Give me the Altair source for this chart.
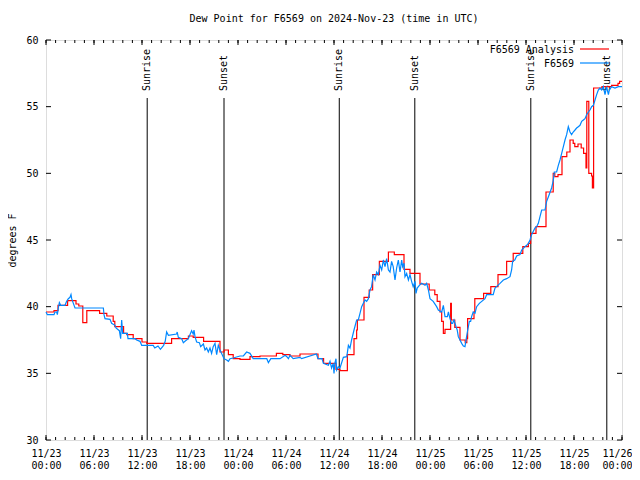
import altair as alt
import pandas as pd

# ---------------- data (hours after 2024-11-23 00:00 UTC) ----------------
red_hours = [0.0, 1.0, 1.5, 2.7, 3.75, 4.1, 4.6, 5.1, 6.7, 7.6, 8.4, 8.6, 9.7, 10.1, 10.9,
             12.0, 12.6, 15.7, 17.8, 18.4, 19.7, 21.75, 22.25, 22.8, 23.4, 24.25, 25.5,
             26.75, 28.8, 29.6, 30.5, 31.75, 34.0, 34.7, 36.25, 36.75, 37.67, 38.5, 38.83,
             38.92, 39.75, 40.4, 40.83, 41.67, 42.8, 43.54, 44.75, 45.5, 46.75, 47.9, 48.6,
             48.9, 49.25, 49.46, 49.67, 49.875, 50.58, 50.67, 51.1, 51.75, 52.4, 52.6, 52.7,
             53.5, 53.6, 54.7, 55.6, 56.5, 57.58, 58.4, 59.6, 60.3, 60.58, 61.25, 62.5, 63.4,
             63.6, 64.0, 64.5, 65.1, 65.5, 65.9, 66.1, 66.5, 66.9, 67.2, 67.5, 67.6, 67.85,
             68.2, 68.3, 68.45, 69.5, 70.7, 71.5, 71.7, 72.0]
red_vals = [39.6, 39.7, 40.1, 40.45, 40.2, 40.05, 38.8, 39.7, 39.5, 39.3, 38.9, 38.5, 38.0, 37.9, 37.6,
            37.35, 37.25, 37.6, 37.8, 37.7, 37.4, 36.6, 36.75, 36.4, 36.1, 36.05, 36.25,
            36.3, 36.5, 36.4, 36.3, 36.45, 36.1, 35.75, 35.3, 35.2, 36.4, 37.6, 38.25,
            39.0, 40.7, 41.25, 42.4, 43.4, 44.1, 43.9, 42.8, 42.5, 41.7, 41.25, 40.9,
            40.4, 39.6, 38.9, 38.0, 38.3, 40.25, 39.0, 38.45, 37.5, 37.3, 37.6, 39.1,
            39.6, 40.6, 41.0, 41.5, 42.4, 43.4, 44.0, 44.5, 44.75, 45.5, 46.0, 48.6, 50.0,
            49.75, 49.9, 51.25, 51.6, 52.5, 52.25, 52.0, 52.2, 51.9, 51.5, 50.4, 55.4, 50.0,
            49.8, 48.9, 56.4, 56.5, 56.6, 56.75, 56.9, 56.9]

blue_hours = [0.0, 0.17, 1.0, 1.125, 1.33, 1.42, 1.54, 1.67, 1.83, 2.375, 2.58, 2.79, 3.0, 3.125,
              3.21, 3.42, 3.625, 7.17, 7.25, 7.375, 8.0, 8.2, 8.625, 8.75, 9.17, 9.33, 9.46,
              9.58, 10.17, 10.25, 11.125, 11.33, 11.75, 11.96, 13.4, 13.6, 14.0, 14.3, 14.7,
              14.9, 15.08, 15.3, 16.33, 16.4, 16.54, 16.96, 17.17, 17.375, 17.79, 18.2, 18.4,
              18.5, 18.625, 18.83, 19.17, 19.33, 19.67, 19.875, 20.08, 20.29, 20.5, 20.7, 20.9,
              21.125, 21.33, 21.54, 21.75, 22.25, 22.58, 22.8, 23.0, 23.4, 24.25, 24.67, 25.08,
              25.5, 25.9, 27.6, 27.8, 28.1, 29.25, 29.9, 30.1, 30.3, 30.5, 30.9, 31.75, 31.96,
              33.8, 34.0, 34.5, 34.67, 35.3, 35.5, 35.7, 35.9, 36.0, 36.1, 36.25, 36.33, 36.54,
              36.75, 37.17, 37.6, 37.8, 38.0, 38.2, 38.5, 38.83, 39.04, 39.25, 39.46, 39.67,
              39.875, 40.08, 40.3, 40.5, 40.7, 40.9, 41.125, 41.33, 41.54, 41.75, 41.96, 42.17,
              42.375, 42.58, 42.8, 43.0, 43.2, 43.4, 43.625, 43.83, 44.04, 44.25, 44.46, 44.58,
              44.75, 44.875, 45.08, 45.3, 45.5, 45.7, 45.9, 46.125, 46.25, 46.4, 46.67, 46.96,
              47.375, 47.58, 47.8, 48.0, 48.4, 48.83, 49.04, 49.46, 49.67, 49.875, 50.17, 50.3,
              50.5, 50.7, 50.83, 51.0, 51.25, 51.4, 51.54, 51.75, 51.96, 52.17, 52.375, 52.5,
              52.67, 52.92, 53.08, 53.2, 53.4, 53.625, 53.83, 54.17, 54.875, 55.08, 55.9,
              56.125, 56.75, 57.17, 57.58, 58.0, 58.2, 58.33, 58.6, 58.83, 59.25, 59.46,
              59.875, 60.08, 60.3, 60.5, 60.7, 61.125, 61.33, 61.54, 61.75, 61.96, 62.375,
              62.58, 62.8, 63.2, 63.33, 63.42, 63.54, 63.83, 64.04, 64.25, 64.46, 64.67,
              64.875, 65.08, 65.29, 65.5, 65.7, 65.9, 66.125, 66.33, 66.54, 66.75, 66.96,
              67.17, 67.375, 67.58, 67.8, 68.0, 68.2, 68.42, 68.625, 68.83, 69.04, 69.25,
              69.46, 69.67, 69.875, 70.08, 70.3, 70.42, 70.7, 71.125, 71.54, 71.75, 72.0]
blue_vals = [39.6, 39.4, 39.4, 39.6, 39.6, 39.4, 39.9, 40.3, 40.1, 40.1, 40.4, 40.6, 40.7, 40.9,
             40.6, 40.25, 39.9, 39.9, 39.4, 39.1, 39.05, 38.75, 38.6, 38.4, 38.2, 37.6, 39.0,
             38.0, 38.0, 37.6, 37.6, 37.5, 37.4, 37.1, 37.1, 36.9, 37.05, 36.8, 37.1,
             37.4, 38.1, 37.85, 37.95, 38.1, 37.7, 37.6, 37.3, 37.4, 37.6, 38.2, 37.95,
             38.25, 37.75, 37.35, 37.3, 37.0, 37.2, 36.75, 36.9, 36.6, 36.9, 36.5, 37.0,
             37.25, 36.4, 37.1, 36.75, 36.1, 36.0, 35.9, 36.1, 36.15, 36.3, 36.3, 36.6,
             36.5, 36.1, 36.1, 35.8, 36.1, 36.1, 36.35, 36.25, 36.1, 36.35, 36.1, 36.2, 36.1,
             36.45, 36.1, 36.1, 35.75, 35.6, 35.9, 35.4, 35.75, 35.0, 35.75, 36.1, 35.25, 35.5,
             35.4, 36.2, 36.25, 37.1, 36.9, 37.5, 38.25, 39.0, 39.0, 39.5, 40.0, 40.25,
             40.5, 40.4, 40.6, 41.25, 41.5, 42.4, 42.0, 42.6, 42.4, 43.1, 42.75, 43.5,
             43.0, 43.6, 42.75, 42.6, 43.4, 43.0, 42.0, 42.9, 43.5, 42.6, 43.5, 43.0,
             43.25, 42.25, 42.5, 42.0, 42.4, 41.9, 41.5, 41.9, 41.0, 41.4, 41.6, 41.75,
             41.6, 41.75, 41.25, 40.6, 40.4, 40.0, 39.75, 39.6, 40.1, 39.25, 39.25, 39.6,
             39.1, 38.75, 38.75, 39.0, 38.5, 38.25, 37.75, 37.5, 37.25, 37.05, 37.0, 37.5,
             38.1, 38.9, 38.9, 39.25, 39.6, 39.5, 40.0, 40.25, 40.6, 40.9, 40.9,
             41.4, 41.75, 42.0, 42.1, 42.25, 42.75, 43.4, 43.5, 43.8, 43.9, 44.25,
             44.5, 44.6, 44.75, 45.0, 45.4, 45.9, 46.0, 46.25, 46.75, 47.25, 47.25,
             47.9, 48.25, 48.9, 49.25, 49.5, 50.1, 50.1, 50.6, 51.0, 51.5, 52.0,
             52.5, 52.9, 53.5, 53.1, 52.9, 53.1, 53.25, 53.4, 53.5, 53.6, 53.9,
             54.0, 54.1, 54.4, 54.6, 54.75, 55.0, 55.1, 55.5, 55.9, 56.25, 56.4,
             56.25, 56.5, 55.9, 56.5, 55.9, 56.25, 56.5, 56.4, 56.5, 56.5, 56.5]

sun_hours = [12.65, 22.25, 36.66, 46.1, 60.6, 70.1]
sun_labels = ["Sunrise", "Sunset", "Sunrise", "Sunset", "Sunrise", "Sunset"]

y_ticks = [30, 35, 40, 45, 50, 55, 60]
x_major_hours = [0, 6, 12, 18, 24, 30, 36, 42, 48, 54, 60, 66, 72]
x_minor_hours = [round(i * 1.2, 2) for i in range(61)]

legend_labels = ["F6569 Analysis", "F6569"]
series_colors = ["#ff0000", "#0088ff"]

title_text = "Dew Point for F6569 on 2024-Nov-23 (time in UTC)"
y_title = "degrees F"

# ---------------- helpers ----------------
t0 = pd.Timestamp("2024-11-23T00:00:00", tz="UTC")


def iso(hours):
    return [(t0 + pd.Timedelta(hours=h)).strftime("%Y-%m-%dT%H:%M:%SZ") for h in hours]


def ms(h):
    return int((t0 + pd.Timedelta(hours=h)).timestamp() * 1000)


W, H = 576, 400
FONT = "DejaVu Sans Mono"

xscale = alt.Scale(type="utc", domain=[ms(0), ms(72)], nice=False)
yscale = alt.Scale(domain=[30, 60], nice=False, zero=False)

last_tick = ms(x_major_hours[-1])
xaxis = alt.Axis(
    values=[ms(h) for h in x_major_hours],
    labelExpr="[utcFormat(datum.value, '%m/%d'), utcFormat(datum.value, '%H:%M')]",
    tickSize=0, domain=False, grid=False, labelPadding=8, labelLineHeight=12,
    labelFont=FONT, labelFontSize=10, labelColor="black", labelFlush=False,
    labelOverlap=False, title=None,
    labelOffset={"condition": {"test": f"datum.value >= {last_tick}", "value": -5}, "value": 0},
)
yaxis = alt.Axis(
    values=y_ticks, tickSize=0, domain=False, grid=False, labelPadding=8,
    labelFont=FONT, labelFontSize=10, labelColor="black",
    title=y_title, titleFont=FONT, titleFontSize=10, titleFontWeight="normal",
    titleColor="black", titleX=-34, titleY=200, titleAngle=270, titleAlign="center",
    titleBaseline="middle",
)

xenc = alt.X("t:T", scale=xscale, axis=xaxis)
yenc = alt.Y("v:Q", scale=yscale, axis=yaxis)

red_df = pd.DataFrame({"t": iso(red_hours), "v": red_vals})
blue_df = pd.DataFrame({"t": iso(blue_hours), "v": blue_vals})
sun_df = pd.DataFrame({"t": iso(sun_hours), "label": sun_labels})
yt_df = pd.DataFrame({"v": y_ticks})
xmaj_df = pd.DataFrame({"t": iso(x_major_hours)})
xmin_df = pd.DataFrame({"t": iso(x_minor_hours)})

layers = []

# sunrise / sunset lines and labels
layers.append(alt.Chart(sun_df).mark_rule(color="black", strokeWidth=1).encode(
    x=xenc, y=alt.value(H), y2=alt.value(58)))
layers.append(alt.Chart(sun_df).mark_text(
    angle=270, align="left", baseline="middle", font=FONT, fontSize=10, color="black", dx=1
).encode(x=xenc, y=alt.value(52), text="label:N"))

# data series
layers.append(alt.Chart(red_df).mark_line(
    color=series_colors[0], strokeWidth=1.2, interpolate="step-after").encode(x=xenc, y=yenc))
layers.append(alt.Chart(blue_df).mark_line(
    color=series_colors[1], strokeWidth=1.2, interpolate="linear").encode(x=xenc, y=yenc))

# inward ticks (mirrored on all sides)
layers.append(alt.Chart(yt_df).mark_rule(color="black").encode(y=yenc, x=alt.value(0), x2=alt.value(5)))
layers.append(alt.Chart(yt_df).mark_rule(color="black").encode(y=yenc, x=alt.value(W - 5), x2=alt.value(W)))
layers.append(alt.Chart(xmaj_df).mark_rule(color="black").encode(x=xenc, y=alt.value(H - 5), y2=alt.value(H)))
layers.append(alt.Chart(xmaj_df).mark_rule(color="black").encode(x=xenc, y=alt.value(0), y2=alt.value(5)))
layers.append(alt.Chart(xmin_df).mark_rule(color="black").encode(x=xenc, y=alt.value(H - 3), y2=alt.value(H)))
layers.append(alt.Chart(xmin_df).mark_rule(color="black").encode(x=xenc, y=alt.value(0), y2=alt.value(3)))

# legend (gnuplot style: text then line sample)
for i, (lab, col) in enumerate(zip(legend_labels, series_colors)):
    ldf = pd.DataFrame({"label": [lab]})
    layers.append(alt.Chart(ldf).mark_text(
        align="right", baseline="middle", font=FONT, fontSize=10, color="black"
    ).encode(text="label:N", x=alt.value(528), y=alt.value(10 + 14 * i)))
    layers.append(alt.Chart(ldf).mark_rule(color=col, strokeWidth=1.2).encode(
        x=alt.value(534), x2=alt.value(563), y=alt.value(9 + 14 * i)))

chart = alt.layer(*layers).properties(
    width=W, height=H,
    title=alt.TitleParams(title_text, font=FONT, fontSize=10, fontWeight="normal",
                          color="black", offset=11),
    autosize=alt.AutoSizeParams(type="none"),
    padding={"left": 38, "top": 32, "right": 10, "bottom": 32},
).configure_view(stroke="black", strokeWidth=1).configure(background="white")

chart.save("out.html", embed_options={"renderer": "svg", "actions": False})
